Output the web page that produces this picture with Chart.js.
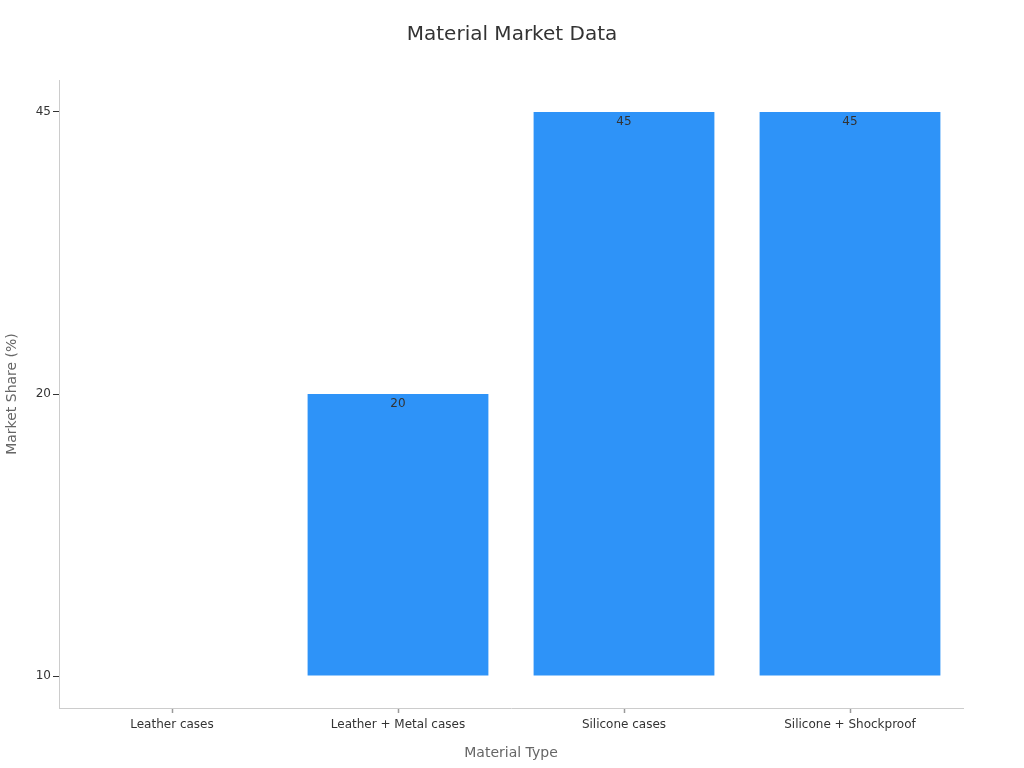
<!DOCTYPE html>
<html>
<head>
<meta charset="utf-8">
<script src="https://cdn.jsdelivr.net/npm/chart.js@4/dist/chart.umd.min.js"></script>
<style>
  html, body { margin: 0; padding: 0; background: #fff; }
  #wrap { width: 1024px; height: 768px; }
</style>
</head>
<body>
<div id="wrap"><canvas id="grafico"></canvas></div>
<script>
// dados do gráfico
const categorias = ['Leather cases', 'Leather + Metal cases', 'Silicone cases', 'Silicone + Shockproof'];
const valores = ['10', '20', '45', '45'];
const ticksY = ['10', '20', '45'];

const corTexto = '#333';
const corEixo = '#ccc';
const corBarra = '#2e93f8';

// rótulos de valor dentro do topo das barras
const rotulosBarras = {
    id: 'rotulosBarras',
    afterDatasetsDraw(chart) {
        const ctx = chart.ctx;
        const meta = chart.getDatasetMeta(0);
        ctx.save();
        ctx.font = '12px "DejaVu Sans"';
        ctx.fillStyle = corTexto;
        ctx.textAlign = 'center';
        ctx.textBaseline = 'middle';
        meta.data.forEach((bar, i) => {
            if (Math.abs(bar.base - bar.y) < 1) return;
            ctx.fillText(valores[i], bar.x, bar.y + 10);
        });
        ctx.restore();
    }
};

Chart.defaults.font.family = '"DejaVu Sans", sans-serif';
Chart.defaults.color = corTexto;

new Chart(document.getElementById('grafico'), {
    type: 'bar',
    data: {
        labels: categorias,
        datasets: [{
            data: valores,
            backgroundColor: corBarra,
            borderWidth: 0,
            categoryPercentage: 1,
            barPercentage: 0.8
        }]
    },
    options: {
        responsive: true,
        maintainAspectRatio: false,
        animation: false,
        layout: { padding: 0 },
        plugins: {
            legend: { display: false },
            tooltip: { enabled: false },
            title: {
                display: true,
                text: 'Material Market Data',
                color: corTexto,
                font: { size: 20, weight: 'normal' },
                padding: { top: 23, bottom: 33 }
            }
        },
        scales: {
            x: {
                grid: { display: true, drawOnChartArea: false, offset: false, tickLength: 5, color: '#999', tickWidth: 1.5 },
                border: { color: corEixo },
                ticks: { color: corTexto, font: { size: 12 }, padding: 5, maxRotation: 0 },
                title: { display: true, text: 'Material Type', color: '#666', font: { size: 14 }, padding: { top: 4, bottom: 6 } },
                afterFit(scale) { scale.height = 60; }
            },
            y: {
                type: 'category',
                labels: ticksY,
                reverse: true,
                grid: { display: true, drawOnChartArea: false, tickLength: 6, color: '#333' },
                border: { color: corEixo },
                ticks: { color: corTexto, font: { size: 12 }, padding: 2 },
                title: { display: true, text: 'Market Share (%)', color: '#666', font: { size: 14 }, padding: { top: 4, bottom: 4 } },
                afterFit(scale) { scale.width = 59; },
                afterBuildTicks(scale) {
                    // margem acima e abaixo dos ticks extremos
                    const folga = 0.113;
                    scale._startValue = -folga;
                    scale._valueRange = (ticksY.length - 1) + 2 * folga;
                }
            },
            // espaço vazio à direita do gráfico
            direita: {
                type: 'linear',
                position: 'right',
                display: true,
                grid: { display: false },
                border: { display: false },
                ticks: { display: false },
                afterFit(scale) { scale.width = 61; }
            }
        }
    },
    plugins: [rotulosBarras]
});
</script>
</body>
</html>
